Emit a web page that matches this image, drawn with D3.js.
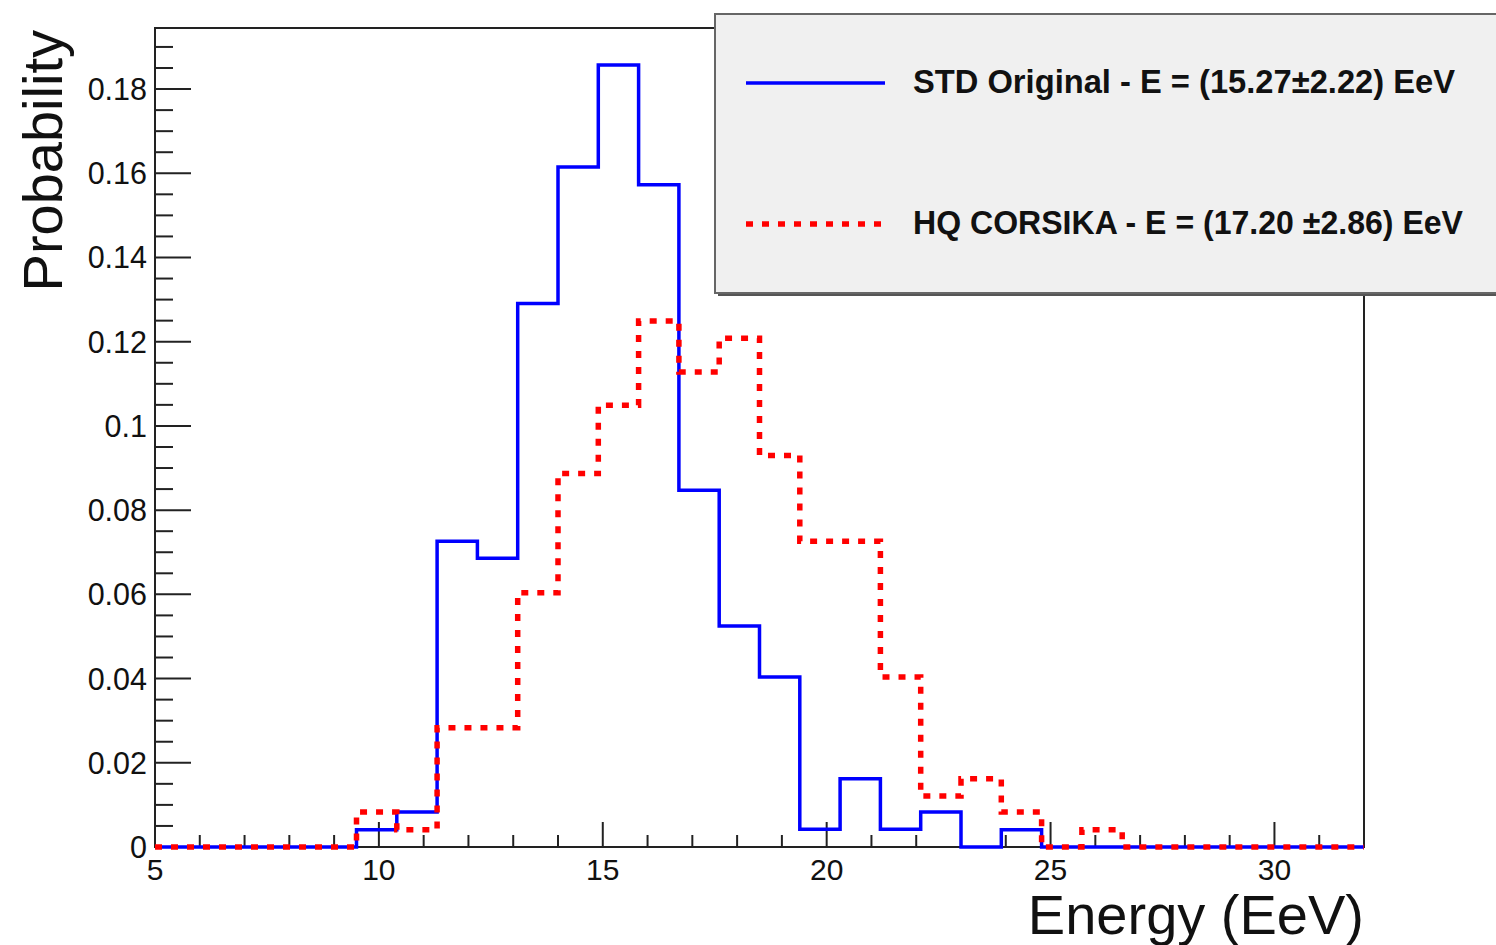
<!DOCTYPE html>
<html>
<head>
<meta charset="utf-8">
<script src="https://cdn.jsdelivr.net/npm/d3@7"></script>
<style>
  html, body { margin: 0; padding: 0; background: #ffffff; }
  svg { display: block; }
  text { font-family: "Liberation Sans", Arial, Helvetica, sans-serif; fill: #111; }
</style>
</head>
<body>
<svg id="chart" width="1496" height="945"></svg>
<script>
// ---- Data ----
const binEdges = [5, 5.9, 6.8, 7.7, 8.6, 9.5, 10.4, 11.3, 12.2, 13.1, 14.0, 14.9, 15.8, 16.7, 17.6,
  18.5, 19.4, 20.3, 21.2, 22.1, 23.0, 23.9, 24.8, 25.7, 26.6, 27.5, 28.4, 29.3, 30.2, 31.1, 32.0];
const stdOriginal = [0, 0, 0, 0, 0, 0.0041, 0.0083, 0.0726, 0.0686, 0.1291, 0.1615, 0.1857, 0.1573,
  0.0847, 0.0525, 0.0404, 0.0042, 0.0162, 0.0042, 0.0083, 0, 0.0041, 0, 0, 0, 0, 0, 0, 0, 0];
const hqCorsika = [0, 0, 0, 0, 0, 0.0083, 0.0041, 0.0283, 0.0283, 0.0604, 0.0887, 0.1049, 0.1249,
  0.1128, 0.1208, 0.0930, 0.0726, 0.0726, 0.0404, 0.0121, 0.0162, 0.0083, 0, 0.0041, 0, 0, 0, 0, 0, 0];
const xTicks = [5, 10, 15, 20, 25, 30];
const yTicks = [0, 0.02, 0.04, 0.06, 0.08, 0.1, 0.12, 0.14, 0.16, 0.18];
const legendLabels = ["STD Original - E = (15.27\u00B12.22) EeV", "HQ CORSIKA - E = (17.20 \u00B12.86) EeV"];

// ---- Layout ----
const svg = d3.select("#chart");
const L = 155, R = 1364, T = 28, B = 847;
const x = d3.scaleLinear().domain([5, 32]).range([L, R]);
const y = d3.scaleLinear().domain([0, 0.1945]).range([B, T]);

// Histogram step path
function stepPath(vals) {
  const pts = [];
  vals.forEach((v, i) => {
    pts.push([x(binEdges[i]), y(v)]);
    pts.push([x(binEdges[i + 1]), y(v)]);
  });
  return d3.line()(pts);
}

// Frame
svg.append("rect").attr("x", L).attr("y", T).attr("width", R - L).attr("height", B - T)
  .attr("fill", "none").attr("stroke", "#222").attr("stroke-width", 2);

// Y axis ticks (inside)
const yMinor = d3.range(0, 0.1945, 0.005);
svg.append("g").selectAll("line").data(yMinor).join("line")
  .attr("x1", L).attr("x2", (d, i) => L + (i % 4 === 0 ? 36 : 18))
  .attr("y1", d => y(d)).attr("y2", d => y(d))
  .attr("stroke", "#222").attr("stroke-width", 2);
svg.append("g").selectAll("text").data(yTicks).join("text")
  .attr("x", L - 8).attr("y", d => y(d)).attr("dy", "0.36em")
  .attr("text-anchor", "end").attr("font-size", 30.5)
  .text(d => d === 0 ? "0" : d3.format("")(+d.toFixed(2)));

// X axis ticks (inside, pointing up)
const xMinor = d3.range(5, 32.001, 1);
svg.append("g").selectAll("line").data(xMinor).join("line")
  .attr("x1", d => x(d)).attr("x2", d => x(d))
  .attr("y1", B).attr("y2", d => B - ((d - 5) % 5 === 0 ? 25 : 12))
  .attr("stroke", "#222").attr("stroke-width", 2);
svg.append("g").selectAll("text").data(xTicks).join("text")
  .attr("x", d => x(d)).attr("y", B + 33)
  .attr("text-anchor", "middle").attr("font-size", 30)
  .text(d => d);

// Axis titles
svg.append("text").attr("x", R).attr("y", 934).attr("text-anchor", "end")
  .attr("font-size", 56).text("Energy (EeV)");
svg.append("text").attr("transform", `translate(62,${T + 2}) rotate(-90)`)
  .attr("text-anchor", "end").attr("font-size", 56).text("Probability");

// Histograms
svg.append("path").attr("d", stepPath(stdOriginal)).attr("fill", "none")
  .attr("stroke", "#0000ff").attr("stroke-width", 3.5).attr("stroke-linejoin", "miter");
svg.append("path").attr("d", stepPath(hqCorsika)).attr("fill", "none")
  .attr("stroke", "#ff0000").attr("stroke-width", 5.5).attr("stroke-dasharray", "7 9");

// Legend
const lg = svg.append("g");
lg.append("rect").attr("x", 718).attr("y", 17).attr("width", 800).attr("height", 279)
  .attr("fill", "#555");
lg.append("rect").attr("x", 715).attr("y", 14).attr("width", 800).attr("height", 279)
  .attr("fill", "#f0f0f0").attr("stroke", "#666").attr("stroke-width", 2);
const legendY = [83, 224];
const legendLen = [542, 550];
lg.append("line").attr("x1", 746).attr("x2", 885).attr("y1", legendY[0]).attr("y2", legendY[0])
  .attr("stroke", "#0000ff").attr("stroke-width", 3.5);
lg.append("line").attr("x1", 746).attr("x2", 882).attr("y1", legendY[1]).attr("y2", legendY[1])
  .attr("stroke", "#ff0000").attr("stroke-width", 5.5).attr("stroke-dasharray", "7 9");
legendLabels.forEach((t, i) => {
  lg.append("text").attr("x", 913).attr("y", legendY[i] + 9.5)
    .attr("font-size", 34).attr("font-weight", "bold")
    .attr("textLength", legendLen[i]).attr("lengthAdjust", "spacingAndGlyphs")
    .text(t);
});
</script>
</body>
</html>
